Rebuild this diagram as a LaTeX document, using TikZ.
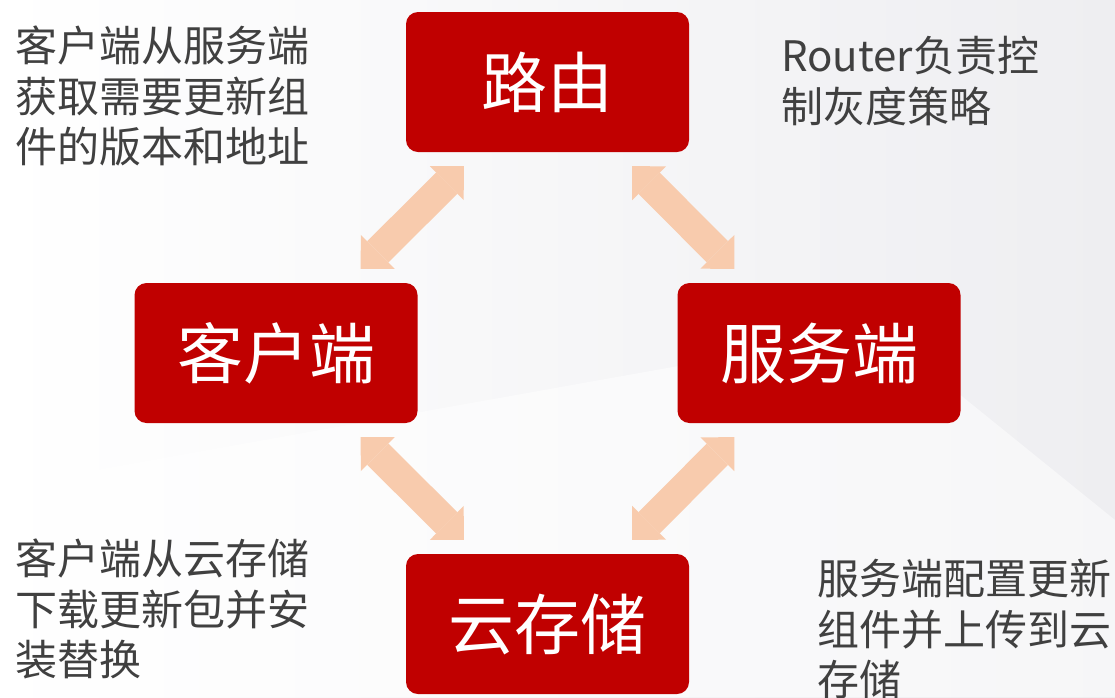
\documentclass[tikz,border=0pt]{standalone}
\usepackage{fontspec}
\setmainfont{Noto Sans CJK SC}
\usetikzlibrary{arrows.meta, positioning}

\definecolor{boxred}{HTML}{C00000}
\definecolor{peach}{HTML}{F8CBAD}
\definecolor{notegray}{HTML}{404040}
\definecolor{bgfrom}{HTML}{FFFFFF}
\definecolor{bgto}{HTML}{EEEEF1}

\begin{document}
\begin{tikzpicture}[
    x=1pt, y=-1pt,
    box/.style={draw=none, fill=boxred, rectangle, rounded corners=12pt, text=white,
        minimum width=283pt, minimum height=140pt, inner sep=0pt,
        font=\fontsize{66}{70}\selectfont},
    note/.style={anchor=north west, align=left, inner sep=0pt, text=notegray,
        font=\fontsize{42}{50.5}\selectfont},
    link/.style={peach, line width=30pt,
        {Triangle[length=24pt, width=48pt, line width=0pt]}-{Triangle[length=24pt, width=48pt, line width=0pt]}}
]

% background
\useasboundingbox (0,0) rectangle (1115,697);
\shade[left color=bgfrom, right color=bgto] (0,0) rectangle (1115,697);
\fill[white, opacity=0.5] (0,420) -- (40,480) -- (880,330) -- (1115,520) -- (1115,697) -- (0,697) -- cycle;

% the four boxes
\node[box] (luyou) at (547.5,82) {路由};
\node[box] (kehu) at (276,353) {客户端};
\node[box] (fuwu) at (819,353) {服务端};
\node[box] (yun) at (547.5,624) {云存储};

% side notes
\node[note] (notetl) at (15,26) {客户端从服务端\\获取需要更新组\\件的版本和地址};
\node[note] (notetr) at (781,36) {Router负责控\\制灰度策略};
\node[note] (notebl) at (15,539) {客户端从云存储\\下载更新包并安\\装替换};
\node[note] (notebr) at (817,559) {服务端配置更新\\组件并上传到云\\存储};

% double arrows
\draw[link] ([shift={(58,14)}]luyou.south west) -- ([shift={(-57,-14)}]kehu.north east);
\draw[link] ([shift={(-57,14)}]luyou.south east) -- ([shift={(57,-14)}]fuwu.north west);
\draw[link] ([shift={(-57,14)}]kehu.south east) -- ([shift={(58,-14)}]yun.north west);
\draw[link] ([shift={(57,14)}]fuwu.south west) -- ([shift={(-57,-14)}]yun.north east);

\end{tikzpicture}
\end{document}
